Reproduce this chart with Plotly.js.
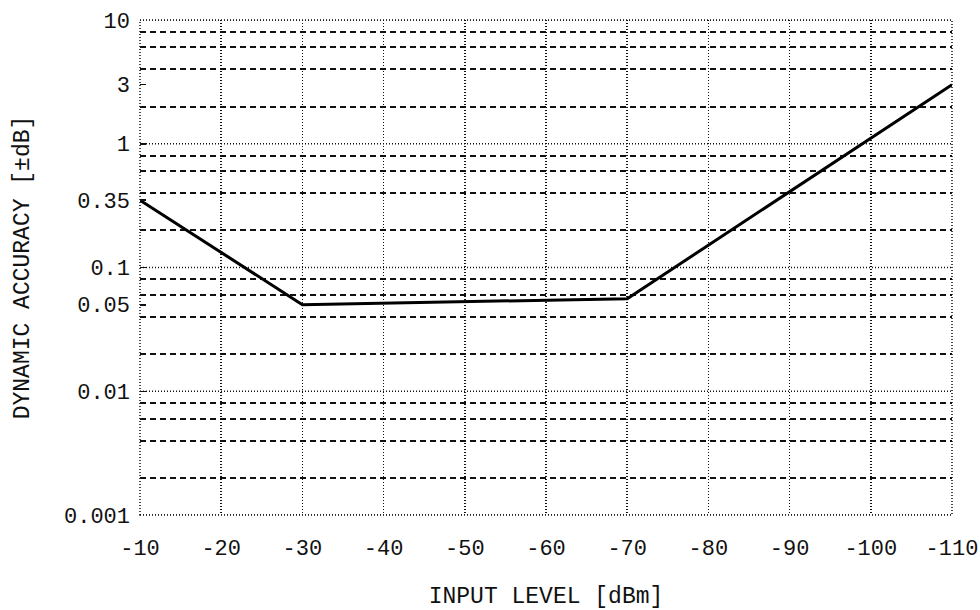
<!DOCTYPE html>
<html>
<head>
<meta charset="utf-8">
<script src="https://cdn.plot.ly/plotly-3.0.1.min.js"></script>
<style>html,body{margin:0;padding:0;background:#fff;}#chart{width:980px;height:610px;}</style>
</head>
<body>
<div id="chart"></div>
<script>
// Data
const inputLevel = [-10, -30, -70, -110];          // dBm
const dynamicAccuracy = [0.35, 0.05, 0.056, 3.0];   // ±dB

// Axis ticks
const xTicks = [-10, -20, -30, -40, -50, -60, -70, -80, -90, -100, -110];
const xTickText = ['-10', '-20', '-30', '-40', '-50', '-60', '-70', '-80', '-90', '-100', '-110'];
const yLabelVals = [0.001, 0.01, 0.05, 0.1, 0.35, 1, 3, 10];
const yLabelText = ['0.001', '0.01', '0.05', '0.1', '0.35', '1', '3', '10'];
const yDecades = [0.001, 0.01, 0.1, 1, 10];
const yMinorMult = [2, 4, 6, 8];

const yMinorVals = [];
yDecades.slice(0, -1).forEach(d => yMinorMult.forEach(m => yMinorVals.push(d * m)));

const FONT = 'Liberation Mono, Courier New, monospace';
const INK = '#111';
const DOT = '1px,2px';

// decade grid lines (dotted) and plot frame (dotted)
const shapes = yDecades.map(v => ({
  type: 'line', layer: 'below',
  xref: 'paper', x0: 0, x1: 1,
  yref: 'y', y0: v, y1: v,
  line: {color: INK, width: 1.5, dash: DOT}
}));
shapes.push({
  type: 'rect', layer: 'below',
  xref: 'paper', yref: 'paper', x0: 0, x1: 1, y0: 0, y1: 1,
  line: {color: INK, width: 1.5, dash: DOT}
});

const trace = {
  x: inputLevel,
  y: dynamicAccuracy,
  type: 'scatter',
  mode: 'lines',
  line: {color: '#000', width: 3},
  hoverinfo: 'x+y'
};

const layout = {
  width: 980,
  height: 610,
  margin: {l: 140, r: 28, t: 20, b: 95},
  paper_bgcolor: '#fff',
  plot_bgcolor: '#fff',
  showlegend: false,
  font: {family: FONT, color: INK, size: 22},
  shapes: shapes,
  xaxis: {
    range: [-10, -110],
    tickmode: 'array',
    tickvals: xTicks,
    ticktext: xTickText,
    showgrid: true,
    gridcolor: INK,
    gridwidth: 1.5,
    griddash: DOT,
    zeroline: false,
    showline: false,
    ticks: '',
    ticklabelstandoff: 17,
    tickfont: {family: FONT, size: 22, color: INK},
    automargin: false,
    title: {text: 'INPUT LEVEL [dBm]', font: {family: FONT, size: 23, color: INK}, standoff: 30}
  },
  yaxis: {
    type: 'log',
    range: [-3, 1],
    tickmode: 'array',
    tickvals: yLabelVals,
    ticktext: yLabelText,
    showgrid: false,
    zeroline: false,
    showline: false,
    ticks: 'inside',
    ticklen: 6,
    tickwidth: 1.5,
    tickcolor: INK,
    ticklabelstandoff: 9,
    tickfont: {family: FONT, size: 22, color: INK},
    automargin: false,
    minor: {
      tickmode: 'array',
      tickvals: yMinorVals,
      showgrid: true,
      gridcolor: INK,
      gridwidth: 2,
      griddash: '6px,4px',
      ticks: ''
    },
    title: {text: 'DYNAMIC ACCURACY [±dB]', font: {family: FONT, size: 23, color: INK}, standoff: 27}
  }
};

Plotly.newPlot('chart', [trace], layout, {displayModeBar: false, staticPlot: true});
</script>
</body>
</html>
